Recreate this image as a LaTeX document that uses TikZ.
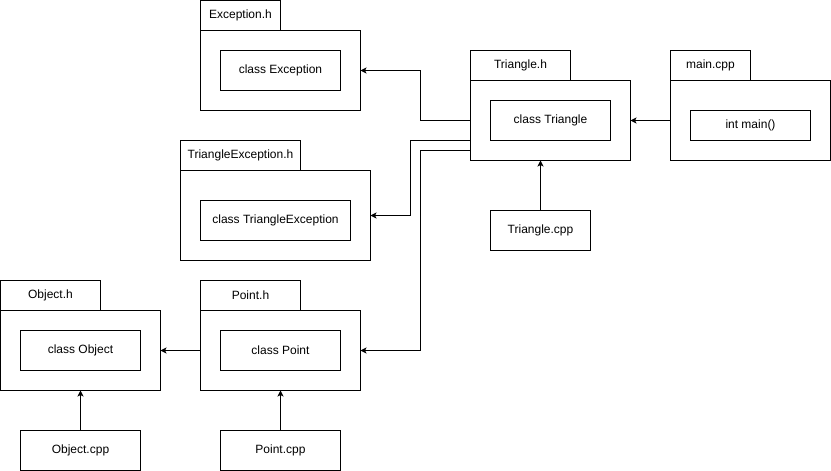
\documentclass[tikz,border=0pt]{standalone}
\usepackage{fontspec}
\setmainfont{Liberation Sans}
\usetikzlibrary{arrows.meta}
\begin{document}
\begin{tikzpicture}[x=1pt,y=-1pt,line width=1pt,
  every node/.style={draw,inner sep=0pt,outer sep=0pt,font=\fontsize{12pt}{14pt}\selectfont},
  tabbox/.style={minimum width=#1,minimum height=30pt},
  pkgbox/.style={minimum width=160pt,minimum height=80pt},
  clsbox/.style={minimum width=120pt,minimum height=40pt},
  dep/.style={-{Stealth[length=6pt,width=6pt,inset=1.5pt]}}]
\useasboundingbox (-0.5,-0.5) rectangle (830.5,470.5);
% Exception.h
\node[tabbox=80pt] (exht) at (240, 15) {Exception.h};
\node[pkgbox] (exh) at (280, 70) {};
\node[clsbox] (exhc) at (280, 70) {class Exception};
% Triangle.h
\node[tabbox=100pt] (trit) at (520, 65) {Triangle.h};
\node[pkgbox] (trih) at (550, 120) {};
\node[clsbox] (trihc) at (550, 120) {class Triangle};
% main.cpp
\node[tabbox=80pt] (maint) at (710, 65) {main.cpp};
\node[pkgbox] (mainc) at (750, 120) {};
\node[clsbox,minimum height=30pt] (mainf) at (750, 125) {int main()};
% TriangleException.h
\node[tabbox=120pt] (texht) at (240, 155) {TriangleException.h};
\node[pkgbox,minimum width=190pt,minimum height=90pt] (texh) at (275, 215) {};
\node[clsbox,minimum width=150pt] (texhc) at (275, 220) {class TriangleException};
% Triangle.cpp
\node[minimum width=100pt,minimum height=40pt] (tricpp) at (540, 230) {Triangle.cpp};
% Object.h
\node[tabbox=100pt] (objt) at (50, 295) {Object.h};
\node[pkgbox] (objh) at (80, 350) {};
\node[clsbox] (objhc) at (80, 350) {class Object};
\node[clsbox] (objcpp) at (80, 450) {Object.cpp};
% Point.h
\node[tabbox=100pt] (ptt) at (250, 295) {Point.h};
\node[pkgbox] (pth) at (280, 350) {};
\node[clsbox] (pthc) at (280, 350) {class Point};
\node[clsbox] (ptcpp) at (280, 450) {Point.cpp};
% includes
\draw[dep] (trih.west) -- ++(-50,0) |- (exh.east);
\draw[dep] ([yshift=-20pt]trih.west) -- ++(-60,0) |- (texh.east);
\draw[dep] ([yshift=-30pt]trih.west) -- ++(-50,0) |- (pth.east);
\draw[dep] (mainc.west) -- (trih.east);
\draw[dep] (tricpp.north) -- (tricpp.north |- trih.south);
\draw[dep] (pth.west) -- (objh.east);
\draw[dep] (objcpp.north) -- (objh.south);
\draw[dep] (ptcpp.north) -- (pth.south);
\end{tikzpicture}
\end{document}
